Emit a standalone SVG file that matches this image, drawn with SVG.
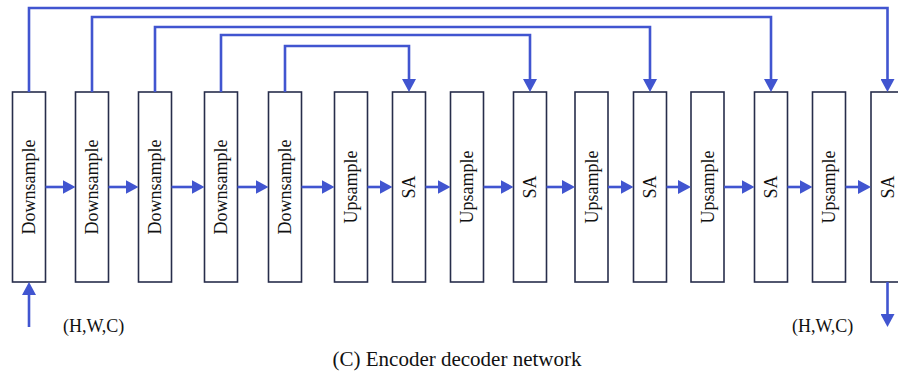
<svg xmlns="http://www.w3.org/2000/svg" width="898" height="375" viewBox="0 0 898 375">
  <style>
    .blk { fill: #ffffff; stroke: #272d4b; stroke-width: 1.6; }
    .lbl { font-family: "Liberation Serif", "Times New Roman", serif; font-size: 18px; fill: #111111; text-anchor: middle; }
    .cap { font-family: "Liberation Serif", "Times New Roman", serif; fill: #111111; }
    .wire { fill: none; stroke: #4155d0; stroke-width: 2.6; marker-end: url(#ah); }
  </style>
  <defs>
    <marker id="ah" viewBox="0 0 13 14" refX="8" refY="7" markerWidth="13" markerHeight="14" markerUnits="userSpaceOnUse" orient="auto">
      <path d="M0,0 L13,7 L0,14 z" fill="#4155d0"/>
    </marker>
  </defs>

  <rect width="898" height="375" fill="#ffffff"/>

  <!-- encoder / decoder blocks -->
  <g id="down1"><rect class="blk" x="12.5" y="92" width="33" height="190"/><text class="lbl" transform="translate(35,187) rotate(-90)">Downsample</text></g>
  <g id="down2"><rect class="blk" x="75.5" y="92" width="33" height="190"/><text class="lbl" transform="translate(98,187) rotate(-90)">Downsample</text></g>
  <g id="down3"><rect class="blk" x="138.5" y="92" width="33" height="190"/><text class="lbl" transform="translate(161,187) rotate(-90)">Downsample</text></g>
  <g id="down4"><rect class="blk" x="204.5" y="92" width="33" height="190"/><text class="lbl" transform="translate(227,187) rotate(-90)">Downsample</text></g>
  <g id="down5"><rect class="blk" x="268.5" y="92" width="33" height="190"/><text class="lbl" transform="translate(291,187) rotate(-90)">Downsample</text></g>
  <g id="up1"><rect class="blk" x="334.5" y="92" width="33" height="190"/><text class="lbl" transform="translate(357,187) rotate(-90)">Upsample</text></g>
  <g id="sa1"><rect class="blk" x="392.5" y="92" width="33" height="190"/><text class="lbl" transform="translate(415,187) rotate(-90)">SA</text></g>
  <g id="up2"><rect class="blk" x="450.5" y="92" width="33" height="190"/><text class="lbl" transform="translate(473,187) rotate(-90)">Upsample</text></g>
  <g id="sa2"><rect class="blk" x="513.5" y="92" width="33" height="190"/><text class="lbl" transform="translate(536,187) rotate(-90)">SA</text></g>
  <g id="up3"><rect class="blk" x="575" y="92" width="33" height="190"/><text class="lbl" transform="translate(597.5,187) rotate(-90)">Upsample</text></g>
  <g id="sa3"><rect class="blk" x="633.5" y="92" width="33" height="190"/><text class="lbl" transform="translate(656,187) rotate(-90)">SA</text></g>
  <g id="up4"><rect class="blk" x="691" y="92" width="33" height="190"/><text class="lbl" transform="translate(713.5,187) rotate(-90)">Upsample</text></g>
  <g id="sa4"><rect class="blk" x="754.5" y="92" width="33" height="190"/><text class="lbl" transform="translate(777,187) rotate(-90)">SA</text></g>
  <g id="up5"><rect class="blk" x="812.5" y="92" width="33" height="190"/><text class="lbl" transform="translate(835,187) rotate(-90)">Upsample</text></g>
  <g id="sa5"><rect class="blk" x="871" y="92" width="33" height="190"/><text class="lbl" transform="translate(893.5,187) rotate(-90)">SA</text></g>

  <!-- connectors -->
  <g id="connectors">
    <!-- main chain -->
    <path class="wire" d="M45.5,187 H70.5"/>
    <path class="wire" d="M108.5,187 H133.5"/>
    <path class="wire" d="M171.5,187 H199.5"/>
    <path class="wire" d="M237.5,187 H263.5"/>
    <path class="wire" d="M301.5,187 H329.5"/>
    <path class="wire" d="M367.5,187 H387.5"/>
    <path class="wire" d="M425.5,187 H445.5"/>
    <path class="wire" d="M483.5,187 H508.5"/>
    <path class="wire" d="M546.5,187 H570"/>
    <path class="wire" d="M608,187 H628.5"/>
    <path class="wire" d="M666.5,187 H686"/>
    <path class="wire" d="M724,187 H749.5"/>
    <path class="wire" d="M787.5,187 H807.5"/>
    <path class="wire" d="M845.5,187 H866"/>
    <!-- skip connections -->
    <path class="wire" d="M285,92 V46 H409 V87"/>
    <path class="wire" d="M221,92 V35 H530 V87"/>
    <path class="wire" d="M155,92 V27 H650 V87"/>
    <path class="wire" d="M92,92 V17 H771 V87"/>
    <path class="wire" d="M29,92 V8 H887.5 V87"/>
    <!-- input / output -->
    <path class="wire" d="M29,327 V287"/>
    <path class="wire" d="M887.5,282 V322"/>
  </g>

  <text class="cap" x="63" y="332" font-size="18">(H,W,C)</text>
  <text class="cap" x="792" y="332" font-size="18">(H,W,C)</text>
  <text class="cap" x="457" y="366" font-size="21" text-anchor="middle">(C) Encoder decoder network</text>
</svg>
